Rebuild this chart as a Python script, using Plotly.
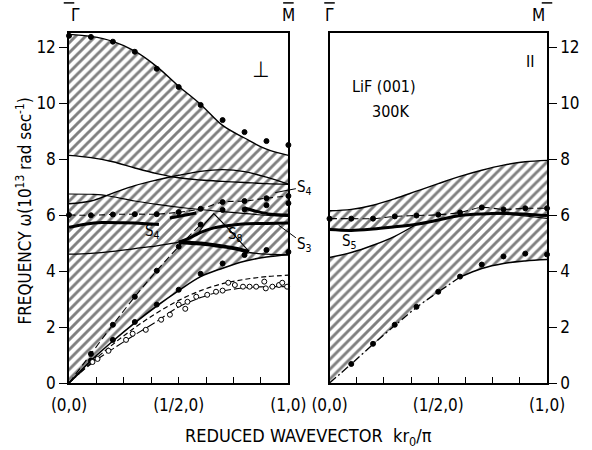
import numpy as np
import plotly.graph_objects as go

# ---------------- data ----------------
xg = [0.0, 0.1, 0.2, 0.3, 0.4, 0.5, 0.6, 0.7, 0.8, 0.9, 1.0]

# left panel (perpendicular polarisation)
perp_upper = [12.45, 12.38, 12.2, 11.85, 11.3, 10.6, 9.95, 9.2, 8.75, 8.35, 8.13]
perp_upper_dots = [12.4, 12.36, 12.19, 11.83, 11.22, 10.57, 9.93, 9.39, 8.96, 8.64, 8.5]
perp_gap_top = [8.13, 8.05, 7.9, 7.68, 7.48, 7.33, 7.25, 7.2, 7.16, 7.12, 7.1]
perp_rise = [6.4, 6.5, 6.78, 7.05, 7.25, 7.42, 7.56, 7.62, 7.55, 7.35, 7.1]
perp_mid_x = [0.0, 0.1, 0.15, 0.2, 0.3, 0.4, 0.54, 0.7, 0.85, 1.0]
perp_mid = [6.75, 6.74, 6.72, 6.65, 6.5, 6.38, 6.24, 6.12, 6.02, 5.95]
perp_dots6 = [6.0, 5.99, 6.02, 6.03, 6.03, 6.1, 6.22, 6.46, 6.5, 6.6, 6.68]
perp_dots6b_x = [0.7, 0.8, 0.9, 1.0]
perp_dots6b = [6.18, 6.2, 6.35, 6.42]
s4_thick1_x = [0.0, 0.08, 0.15, 0.25, 0.35, 0.41]
s4_thick1 = [5.56, 5.68, 5.73, 5.72, 5.69, 5.66]
s4_thick2_x = [0.46, 0.52, 0.58]
s4_thick2 = [5.89, 5.98, 6.07]
x_thick_x = [0.8, 0.86, 0.92, 1.0]
x_thick = [6.25, 6.12, 6.03, 6.0]
z_line_x = [0.5, 0.55, 0.6, 0.66, 0.72, 0.79, 0.9, 1.0]
z_line = [5.02, 5.18, 5.38, 5.54, 5.62, 5.68, 5.7, 5.71]
s8_x = [0.5, 0.6, 0.7, 0.76, 0.82]
s8 = [5.03, 4.98, 4.88, 4.8, 4.68]
tri_x = [0.58, 0.62, 0.66, 0.74, 0.82]
tri = [5.25, 5.7, 6.05, 5.4, 4.7]
low_mid_x = [0.0, 0.1, 0.2, 0.3, 0.4, 0.5]
low_mid = [4.6, 4.63, 4.7, 4.8, 4.9, 5.02]
tail_x = [0.82, 0.9, 1.0]
tail = [4.66, 4.6, 4.58]
perp_lower = [0.0, 0.8, 1.5, 2.15, 2.75, 3.3, 3.8, 4.1, 4.35, 4.5, 4.58]
perp_lower_dots_x = [0.1, 0.2, 0.3, 0.4, 0.5, 0.6, 0.7, 0.8, 0.9, 1.0]
perp_lower_dots = [0.8, 1.54, 2.18, 2.8, 3.33, 3.9, 4.27, 4.57, 4.75, 4.68]
long_x = [0.0, 0.1, 0.2, 0.3, 0.4, 0.5, 0.6]
long_dots = [0.0, 1.04, 2.08, 3.08, 4.01, 4.87, 5.66]
s1_dashed = [0.0, 0.72, 1.38, 1.98, 2.5, 2.95, 3.3, 3.55, 3.7, 3.8, 3.85]
s1_line = [0.0, 0.68, 1.22, 1.72, 2.2, 2.72, 3.05, 3.28, 3.4, 3.44, 3.44]
open_x = [0.107, 0.13, 0.18, 0.26, 0.29, 0.35, 0.42, 0.46, 0.5, 0.53, 0.54, 0.58,
          0.63, 0.67, 0.7, 0.726, 0.756, 0.793, 0.823, 0.853, 0.89, 0.897, 0.927,
          0.957, 0.972, 0.994]
open_y = [0.75, 0.86, 1.15, 1.54, 1.76, 1.9, 2.26, 2.44, 2.8, 2.65, 2.9, 3.08,
          3.15, 3.26, 3.3, 3.58, 3.5, 3.44, 3.44, 3.44, 3.62, 3.38, 3.44,
          3.5, 3.58, 3.44]

# right panel (parallel polarisation)
par_upper = [6.15, 6.2, 6.35, 6.58, 6.85, 7.12, 7.38, 7.6, 7.78, 7.9, 7.95]
par_thick = [5.48, 5.45, 5.5, 5.58, 5.67, 5.82, 5.98, 6.04, 6.06, 6.03, 5.98]
s5_low_x = [0.0, 0.1, 0.2, 0.3, 0.4]
s5_low = [4.48, 4.66, 4.92, 5.24, 5.67]
par_dots6 = [5.87, 5.87, 5.87, 5.95, 5.98, 6.01, 6.09, 6.27, 6.2, 6.24, 6.24]
par_thin_x = [0.75, 0.85, 1.0]
par_thin = [6.05, 6.0, 5.88]
par_lower = [0.0, 0.68, 1.38, 2.05, 2.7, 3.25, 3.78, 4.09, 4.27, 4.36, 4.41]
par_lower_dots_x = [0.1, 0.2, 0.3, 0.4, 0.5, 0.6, 0.7, 0.8, 0.9, 1.0]
par_lower_dots = [0.68, 1.4, 2.08, 2.72, 3.26, 3.8, 4.23, 4.52, 4.62, 4.59]

yticks = [0, 2, 4, 6, 8, 10, 12]
xtick_vals = [0, 0.5, 1.0]
xtick_text = ["(0,0)", "(1/2,0)", "(1,0)"]
xminor_vals = [0.125, 0.25, 0.375, 0.625, 0.75, 0.875]

FONT = "DejaVu Sans Condensed, Liberation Sans Narrow, Roboto Condensed, DejaVu Sans, sans-serif"
HATCH = dict(shape="/", size=7, solidity=0.42, fgcolor="black", bgcolor="white")

fig = go.Figure()


def add(x, y, xa="x", ya="y", **kw):
    fig.add_trace(go.Scatter(x=x, y=y, xaxis=xa, yaxis=ya, hoverinfo="skip", **kw))


def line(x, y, xa="x", ya="y", w=1.4, dash="solid", shape="spline"):
    add(x, y, xa, ya, mode="lines", line=dict(color="black", width=w, dash=dash, shape=shape))


def dots(x, y, xa="x", ya="y", open_=False, size=5):
    add(x, y, xa, ya, mode="markers", cliponaxis=False,
        marker=dict(size=size, color="white" if open_ else "black", symbol="circle",
                    line=dict(color="black", width=1)))


# ---- hatched area, left panel ----
add(xg + xg[::-1], perp_lower + perp_upper[::-1], mode="lines", fill="toself",
    fillpattern=HATCH, fillcolor="white", line=dict(width=0))

# white gap between top band and middle band (left)
fine = np.linspace(0, 1, 201)
L1 = np.interp(fine, xg, perp_gap_top)
lowenv = np.maximum(np.interp(fine, xg, perp_rise), np.interp(fine, perp_mid_x, perp_mid))
diff = L1 - lowenv
k = np.where(diff <= 0)[0][0]
xc = fine[k - 1] + (fine[k] - fine[k - 1]) * diff[k - 1] / (diff[k - 1] - diff[k])
m = fine < xc
wx = list(fine[m]) + [xc] + list(fine[m][::-1])
wy = list(L1[m]) + [np.interp(xc, fine, L1)] + list(lowenv[m][::-1])
add(wx, wy, mode="lines", fill="toself", fillcolor="white", line=dict(width=0))

# ---- hatched area, right panel ----
add(xg + xg[::-1], par_lower + par_upper[::-1], "x2", "y2", mode="lines", fill="toself",
    fillpattern=HATCH, fillcolor="white", line=dict(width=0))
pt = np.interp(s5_low_x, xg, par_thick)
add(s5_low_x + s5_low_x[::-1], list(pt) + s5_low[::-1], "x2", "y2", mode="lines",
    fill="toself", fillcolor="white", line=dict(width=0))

# ---- left panel lines ----
line(xg, perp_upper)
line(xg, perp_gap_top)
line(xg, perp_rise)
line(perp_mid_x, perp_mid, w=1.1)
line(xg, perp_dots6, w=1.1, dash="6px,4px")
line(s4_thick1_x, s4_thick1, w=3)
line(s4_thick2_x, s4_thick2, w=3)
line(x_thick_x, x_thick, w=3)
line(z_line_x, z_line, w=3)
line(s8_x, s8, w=4)
line(tri_x, tri, w=1.1, shape="linear")
line(low_mid_x, low_mid, w=1.3)
line(tail_x, tail, w=1.3)
line(xg, perp_lower, w=1.6)
line(long_x, long_dots, w=1.1, dash="7px,4px")
line(xg, s1_dashed, w=1.2, dash="5px,3px")
line(xg, s1_line, w=1.1, dash="9px,3px")

dots(xg, perp_upper_dots)
dots(xg, perp_dots6)
dots(perp_dots6b_x, perp_dots6b)
dots(perp_lower_dots_x, perp_lower_dots)
dots(long_x[1:], long_dots[1:])
dots(open_x, open_y, open_=True)

# ---- right panel lines ----
line(xg, par_upper, "x2", "y2")
line(xg, par_thick, "x2", "y2", w=3)
line(s5_low_x, s5_low, "x2", "y2")
line(xg, par_dots6, "x2", "y2", w=1.1, dash="7px,4px")
line(par_thin_x, par_thin, "x2", "y2", w=1.1)
line(xg[:7], par_lower[:7], "x2", "y2", w=1.3, dash="8px,3px,2px,3px")
line(xg[6:], par_lower[6:], "x2", "y2", w=1.5)
dots(xg, par_dots6, "x2", "y2")
dots(par_lower_dots_x, par_lower_dots, "x2", "y2")

# ---- axes ----
axis_common = dict(showline=True, linecolor="black", linewidth=1.5, mirror=True,
                   showgrid=False, zeroline=False,
                   tickfont=dict(family=FONT, size=17, color="black"))
xminor = dict(tickmode="array", tickvals=xminor_vals, ticks="inside", ticklen=6,
              tickcolor="black", tickwidth=1.2, showgrid=False)
fig.update_layout(
    width=592, height=450, margin=dict(l=69, r=35, t=33, b=67),
    plot_bgcolor="white", paper_bgcolor="white", showlegend=False,
    xaxis=dict(domain=[0, 0.459], range=[0, 1], tickvals=xtick_vals, ticktext=xtick_text,
               ticks="inside", ticklen=6, tickcolor="black", minor=xminor,
               ticklabelstandoff=6, **axis_common),
    yaxis=dict(domain=[0, 1], range=[0, 12.5], tickvals=yticks, ticks="outside",
               ticklen=8, tickcolor="black", **axis_common),
    xaxis2=dict(domain=[0.545, 1], range=[0, 1], anchor="y2", tickvals=xtick_vals,
                ticktext=xtick_text, ticks="inside", ticklen=6, tickcolor="black",
                minor=xminor, ticklabelstandoff=6, **axis_common),
    yaxis2=dict(domain=[0, 1], range=[0, 12.5], anchor="x2", side="right", tickvals=yticks,
                ticks="outside", ticklen=8, tickcolor="black", **axis_common),
)

ann = []
def text(t, x, y, xref="x", yref="y", size=15, **kw):
    ann.append(dict(text=t, x=x, y=y, xref=xref, yref=yref, showarrow=False,
                    font=dict(family=FONT, size=size, color="black"), **kw))

def leader(t, x, y, ax, ay, size=15):
    ann.append(dict(text=t, x=x, y=y, ax=ax, ay=ay, xref="x", yref="y", axref="x", ayref="y",
                    showarrow=True, arrowhead=0, arrowwidth=1, arrowcolor="black",
                    font=dict(family=FONT, size=size, color="black")))

text("\u22A5", 0.875, 11.2, size=22)
leader("S<sub>4</sub>", 0.94, 6.8, 1.075, 7.0)
text("x", 1.03, 6.12, size=13)
text("z", 1.03, 5.72, size=13)
leader("S<sub>3</sub>", 0.955, 5.64, 1.075, 4.95)
text("S<sub>1</sub>", 1.075, 3.6)
text("S<sub>4</sub>", 0.38, 5.4)
text("S<sub>8</sub>", 0.76, 5.3)

text("II", 0.92, 11.5, "x2", "y2", size=16)
text("LiF (001)", 0.25, 10.6, "x2", "y2", size=16)
text("300K", 0.28, 9.7, "x2", "y2", size=16)
text("S<sub>5</sub>", 0.09, 5.05, "x2", "y2")

shapes = []
for px, lab in ((0.0, "\u0393"), (0.459, "M"), (0.545, "\u0393"), (1.0, "M")):
    text(lab, px, 1.018, "paper", "paper", size=17, yanchor="bottom")
    shapes.append(dict(type="line", xref="paper", yref="paper", x0=px - 0.011, x1=px + 0.011,
                       y0=1.086, y1=1.086, line=dict(color="black", width=1.5)))

text("FREQUENCY \u03c9(10<sup>13</sup> rad sec<sup>-1</sup>)", -0.096, 0.49, "paper", "paper",
     size=17, textangle=-90, xanchor="center", yanchor="middle")
text("REDUCED WAVEVECTOR  kr<sub>0</sub>/\u03c0", 0.5, -0.154, "paper", "paper", size=18,
     xanchor="center", yanchor="middle")

fig.update_layout(annotations=ann, shapes=shapes)
fig.write_html("out.html")
